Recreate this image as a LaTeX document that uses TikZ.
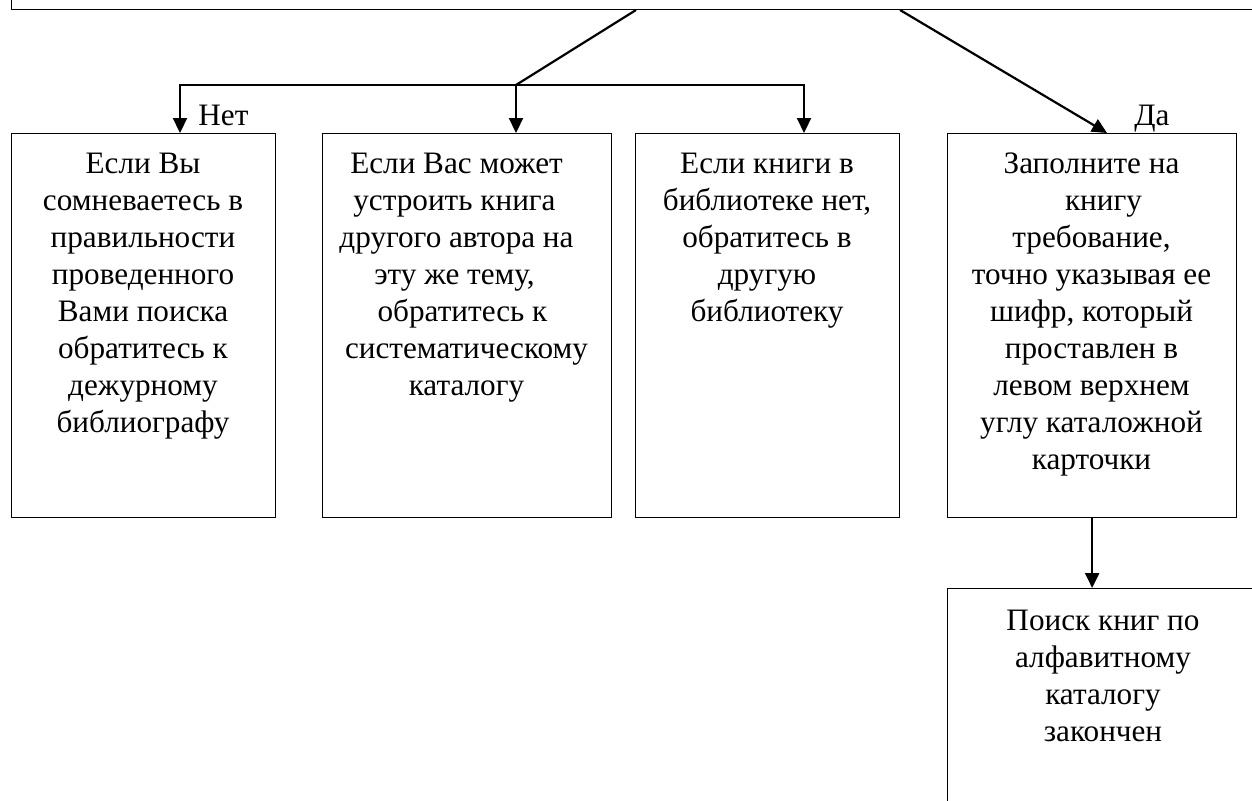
\documentclass[tikz,border=0pt]{standalone}
\usepackage{fontspec}
\setmainfont{Liberation Serif}
\usetikzlibrary{arrows.meta}
\begin{document}
\begin{tikzpicture}[x=0.5pt,y=-0.5pt,
  box/.style={draw, line width=0.65pt, anchor=north west, inner sep=0pt},
  txt/.style={anchor=north, align=center, inner sep=0pt, font=\fontsize{15.6}{18.5}\selectfont},
  conn/.style={line width=1.1pt},
  arr/.style={conn, -{Triangle[length=7.5pt,width=7pt]}},
  lbl/.style={anchor=base west, inner sep=0pt, font=\fontsize{15.6}{18.5}\selectfont}]
\useasboundingbox (0,0) rectangle (1252,800);
\clip (0,0) rectangle (1252,800);

% boxes
\node[box, anchor=south west, minimum width=1300*0.5pt, minimum height=100*0.5pt] (top) at (11,10) {};
\node[box, minimum width=264*0.5pt, minimum height=384*0.5pt] (b1) at (11,133) {};
\node[box, minimum width=289*0.5pt, minimum height=384*0.5pt] (b2) at (322,133) {};
\node[box, minimum width=264*0.5pt, minimum height=384*0.5pt] (b3) at (635,133) {};
\node[box, minimum width=289*0.5pt, minimum height=384*0.5pt] (b4) at (947,133) {};
\node[box, minimum width=312*0.5pt, minimum height=300*0.5pt] (b5) at (947,588) {};

% texts
\node[txt] (t1) at (143,147.1) {\strut Если Вы\\сомневаетесь в\\правильности\\проведенного\\Вами поиска\\обратитесь к\\дежурному\\библиографу};
\node[txt] (t2) at (466.5,147.1) {\strut Если Вас может\rule{10pt}{0pt}\\устроить книга\rule{12pt}{0pt}\\другого автора на\rule{10pt}{0pt}\\эту же тему,\rule{12pt}{0pt}\\обратитесь к\rule{4pt}{0pt}\\систематическому\\каталогу};
\node[txt] (t3) at (767,147.1) {\strut Если книги в\\библиотеке нет,\\обратитесь в\\другую\\библиотеку};
\node[txt] (t4) at (1091.5,147.1) {\strut Заполните на\\\rule{12pt}{0pt}книгу\\требование,\\точно указывая ее\\шифр, который\\проставлен в\\левом верхнем\\углу каталожной\\карточки};
\node[txt] (t5) at (1103,604.1) {\strut Поиск книг по\\алфавитному\\каталогу\\закончен};

% labels
\node[lbl] (no) at (198,125) {Нет};
\node[lbl] (yes) at (1134,125) {Да};

% connector points
\coordinate (tl) at (636,10);
\coordinate (tr) at (900,10);
\coordinate (j) at (516,85);
\coordinate (a1) at (180,133);
\coordinate (a2) at (516,133);
\coordinate (a3) at (804,133);
\coordinate (a4) at (1107,133);

% connectors
\draw[conn] (tl) -- (j);
\draw[arr] (j) -| (a1);
\draw[arr] (j) -- (a2);
\draw[arr] (j) -| (a3);
\draw[arr] (tr) -- (a4);
\draw[arr] (b4.south) -- (b4.south |- b5.north);
\end{tikzpicture}
\end{document}
